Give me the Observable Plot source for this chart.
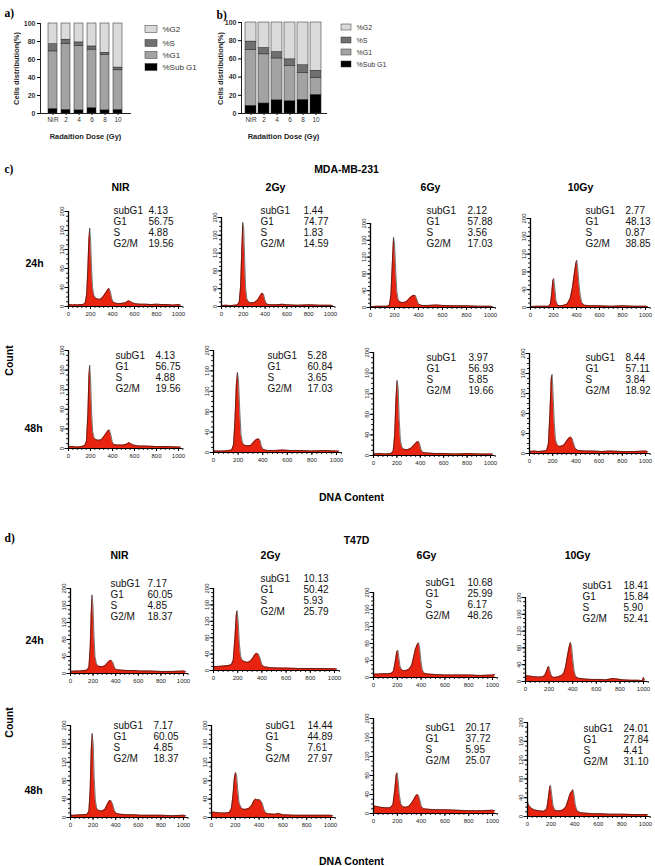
<!DOCTYPE html>
<html><head><meta charset="utf-8">
<script src="https://cdn.jsdelivr.net/npm/d3@7"></script>
<script src="https://cdn.jsdelivr.net/npm/@observablehq/plot@0.6"></script>
<style>
body{margin:0;background:#fff;}
#fig{position:relative;width:655px;height:866px;overflow:hidden;background:#fff;}
#fig svg{position:absolute;left:0;top:0;background:transparent;max-width:none;overflow:visible;}
</style></head><body><div id="fig"></div>
<script>
// ---------- DATA ----------
const doses = ["NIR","2","4","6","8","10"];
const phases = ["%Sub G1","%G1","%S","%G2"];
const phaseColors = ["#000000","#a3a3a3","#707070","#dadada"];
// panel a (MDA-MB-231)
const a_subG1 = [5,4,3.5,6,3.5,4];
const a_G1    = [64,73,71.5,65,61.5,44];
const a_S     = [8,5,4,3.5,2.5,3];
const a_G2    = [23,18,21,25.5,32.5,49];
// panel b (T47D)
const b_subG1 = [8.5,11,14.5,13.5,15,20.5];
const b_G1    = [61.5,54,46,38.5,29.5,18.5];
const b_S     = [9,7,7,7.5,8.5,8];
const b_G2    = [21,28,32.5,40.5,47,53];

const statNames = ["subG1","G1","S","G2/M"];
const colTitles = ["NIR","2Gy","6Gy","10Gy"];
const rowTitles = ["24h","48h"];
const xTickValues = [0,200,400,600,800,1000];
const yTickValues = [0,40,80,120,160,200];
// statistics [subG1, G1, S, G2/M]
const mda24_NIR=[4.13,56.75,4.88,19.56], mda24_2=[1.44,74.77,1.83,14.59], mda24_6=[2.12,57.88,3.56,17.03], mda24_10=[2.77,48.13,0.87,38.85];
const mda48_NIR=[4.13,56.75,4.88,19.56], mda48_2=[5.28,60.84,3.65,17.03], mda48_6=[3.97,56.93,5.85,19.66], mda48_10=[8.44,57.11,3.84,18.92];
const t4724_NIR=[7.17,60.05,4.85,18.37], t4724_2=[10.13,50.42,5.93,25.79], t4724_6=[10.68,25.99,6.17,48.26], t4724_10=[18.41,15.84,5.90,52.41];
const t4748_NIR=[7.17,60.05,4.85,18.37], t4748_2=[14.44,44.89,7.61,27.97], t4748_6=[20.17,37.72,5.95,25.07], t4748_10=[24.01,27.84,4.41,31.10];

// histograms: [DNA channel, count]
const hMDA24_NIR=[[0,3],[20,4],[40,3],[60,4],[80,3],[100,4],[120,4],[140,5],[152,8],[165,25],[176,80],[185,140],[193,165],[201,140],[210,80],[219,40],[230,24],[245,18],[265,16],[285,15],[305,18],[325,24],[342,30],[358,36],[370,38],[382,30],[394,16],[408,9],[430,7],[460,6],[490,7],[520,8],[545,12],[560,11],[580,8],[610,6],[650,5],[700,5],[750,4],[800,5],[850,4],[900,4],[950,3],[1000,4],[1020,3]];
const hMDA24_2=[[0,2],[40,3],[80,2],[120,3],[148,4],[163,10],[175,45],[186,125],[195,189],[204,175],[212,110],[221,45],[232,18],[248,10],[270,8],[300,9],[330,14],[355,24],[370,30],[385,28],[398,15],[412,6],[440,4],[500,4],[560,5],[600,4],[700,3],[800,4],[900,3],[1000,3],[1020,2]];
const hMDA24_6=[[0,2],[50,3],[100,3],[140,3],[158,6],[170,30],[181,100],[192,167],[201,150],[210,90],[219,40],[229,20],[242,14],[260,12],[280,12],[300,14],[320,20],[340,26],[360,29],[375,28],[388,18],[400,8],[430,5],[480,5],[550,6],[600,5],[700,4],[800,4],[900,3],[1000,3],[1020,2]];
const hMDA24_10=[[0,2],[60,3],[120,3],[158,3],[173,8],[184,30],[194,60],[202,65],[211,45],[222,15],[237,5],[260,4],[290,5],[320,8],[345,20],[365,45],[380,75],[395,100],[402,106],[410,90],[421,55],[434,25],[447,10],[470,5],[520,4],[600,4],[700,3],[800,4],[900,3],[1000,3],[1020,2]];
const hMDA48_NIR=[[0,4],[40,4],[80,3],[120,4],[148,6],[163,15],[176,70],[186,150],[193,170],[201,140],[210,75],[220,35],[232,22],[250,18],[275,17],[300,18],[320,24],[340,30],[358,36],[372,38],[385,28],[398,14],[412,8],[450,7],[500,7],[530,9],[550,12],[565,10],[590,7],[640,5],[700,5],[800,4],[900,4],[1000,3],[1020,3]];
const hMDA48_2=[[0,3],[40,3],[80,3],[120,4],[148,5],[163,15],[174,60],[185,130],[195,157],[204,140],[214,80],[224,35],[237,18],[255,14],[280,13],[305,14],[325,20],[345,25],[365,27],[378,24],[390,12],[405,6],[440,4],[500,4],[560,5],[620,4],[700,4],[800,3],[900,4],[1000,3],[1020,3]];
const hMDA48_6=[[0,3],[50,4],[100,3],[150,4],[168,8],[181,40],[192,110],[202,146],[211,130],[220,70],[230,30],[242,16],[260,12],[290,11],[320,14],[345,20],[370,26],[385,27],[395,22],[405,12],[420,6],[460,5],[520,4],[600,4],[700,3],[800,4],[900,3],[1000,3],[1020,3]];
const hMDA48_10=[[0,4],[40,5],[80,4],[120,5],[148,6],[163,20],[176,80],[187,150],[195,158],[203,120],[214,60],[224,28],[237,18],[255,14],[280,15],[300,18],[320,25],[340,31],[355,33],[368,30],[380,20],[395,10],[420,6],[480,5],[550,5],[620,4],[700,5],[800,4],[900,4],[1000,5],[1020,4]];
const hT24_NIR=[[0,5],[40,6],[80,6],[120,7],[148,8],[163,15],[174,60],[183,140],[190,185],[199,160],[208,90],[217,40],[230,22],[250,17],[280,16],[305,18],[325,24],[345,30],[360,31],[375,26],[390,14],[405,9],[440,8],[500,7],[560,7],[620,6],[700,6],[800,5],[900,5],[1000,6],[1020,5]];
const hT24_2=[[0,10],[40,10],[80,11],[120,12],[148,14],[163,25],[177,80],[188,135],[195,146],[204,120],[214,65],[224,35],[237,25],[255,22],[280,20],[300,22],[320,28],[340,38],[355,42],[370,40],[385,30],[400,14],[420,9],[470,7],[540,6],[600,6],[700,5],[800,5],[900,5],[1000,4],[1020,4]];
const hT24_6=[[0,8],[40,8],[80,9],[120,9],[150,10],[168,15],[184,40],[195,60],[205,64],[214,45],[224,25],[237,18],[255,16],[280,17],[300,20],[320,28],[335,45],[350,65],[365,76],[378,82],[388,70],[398,40],[410,18],[425,10],[460,8],[520,7],[600,6],[700,6],[800,6],[900,5],[1000,6],[1020,7]];
const hT24_10=[[0,14],[30,13],[60,12],[100,11],[140,11],[163,14],[179,25],[190,34],[198,36],[208,25],[220,13],[237,10],[260,10],[285,12],[305,14],[325,20],[340,35],[355,60],[368,80],[380,93],[390,85],[400,55],[412,25],[425,12],[450,8],[500,6],[560,5],[620,5],[680,4],[740,7],[780,6],[820,4],[900,3],[960,3],[990,2],[1000,10],[1010,3]];
const hT48_NIR=[[0,5],[40,5],[80,6],[120,6],[148,7],[163,14],[174,60],[184,150],[192,183],[201,160],[210,85],[220,38],[232,20],[250,15],[280,14],[305,18],[325,28],[342,36],[357,37],[372,30],[388,15],[405,9],[440,7],[500,6],[560,6],[620,5],[700,5],[800,5],[900,4],[1000,5],[1020,4]];
const hT48_2=[[0,12],[40,11],[80,10],[120,10],[150,11],[168,20],[181,50],[192,85],[202,98],[211,92],[221,60],[232,32],[247,22],[265,18],[290,18],[315,20],[340,27],[355,36],[370,40],[385,38],[400,39],[415,36],[428,30],[440,18],[455,10],[480,8],[540,7],[560,9],[600,6],[700,5],[800,5],[900,5],[1000,5],[1020,4]];
const hT48_6=[[0,16],[30,15],[60,13],[100,12],[140,12],[163,18],[179,50],[190,80],[198,86],[207,70],[217,40],[230,20],[247,14],[270,13],[295,15],[315,20],[335,28],[350,35],[365,40],[378,38],[390,28],[402,15],[420,10],[460,9],[520,8],[600,8],[700,7],[800,6],[900,6],[1000,7],[1020,6]];
const hT48_10=[[0,32],[10,25],[30,18],[60,14],[100,12],[140,11],[163,16],[177,40],[188,62],[195,66],[204,50],[215,25],[230,14],[250,12],[275,12],[300,14],[325,20],[345,35],[360,48],[372,52],[385,57],[395,45],[405,25],[420,12],[450,8],[500,7],[560,6],[620,6],[700,5],[800,5],[900,4],[1000,4],[1020,4]];

// ---------- LAYOUT (page pixels) ----------
const W = 655, H = 866;
const SANS = "'Liberation Sans', Arial, sans-serif";
const SERIF = "'Liberation Serif', 'Times New Roman', serif";
const RED = "#e8230f";
// [x at channel 0, x at channel 1000, y at count 200, y at count 0]
const histPanels = [
  {d:hMDA24_NIR, f:[68,178,211,306]}, {d:hMDA24_2, f:[221,330,217,306]}, {d:hMDA24_6, f:[370,490,223,307]}, {d:hMDA24_10, f:[530,645,218,307]},
  {d:hMDA48_NIR, f:[68,178,350,448]}, {d:hMDA48_2, f:[213,336,350,452]}, {d:hMDA48_6, f:[373,490,352,455]}, {d:hMDA48_10, f:[529,645,353,453]},
  {d:hT24_NIR, f:[70,183,588,673]}, {d:hT24_2, f:[213,334,588,670]}, {d:hT24_6, f:[373,492,592,677]}, {d:hT24_10, f:[525,643,597,681]},
  {d:hT48_NIR, f:[70,183,725,817]}, {d:hT48_2, f:[211,330,725,817]}, {d:hT48_6, f:[373,492,718,813]}, {d:hT48_10, f:[527,645,722,816]}
];
// stats: [label x, value x, first row y]
const statPanels = [
  {v:mda24_NIR,p:[113,148,210]},{v:mda24_2,p:[260,303,210]},{v:mda24_6,p:[426,467,210]},{v:mda24_10,p:[585,625,210]},
  {v:mda48_NIR,p:[115,155,355]},{v:mda48_2,p:[267,307,355]},{v:mda48_6,p:[426,468,357]},{v:mda48_10,p:[585,625,357]},
  {v:t4724_NIR,p:[110,147,583]},{v:t4724_2,p:[260,303,578]},{v:t4724_6,p:[425,467,582]},{v:t4724_10,p:[582,623,585]},
  {v:t4748_NIR,p:[113,153,725]},{v:t4748_2,p:[265,307,725]},{v:t4748_6,p:[425,465,727]},{v:t4748_10,p:[583,623,728]}
];

const fig = document.getElementById("fig");
function add(svg){ fig.appendChild(svg); }

// ---------- HISTOGRAMS ----------
function hist(panel){
  const [x0, x1000, y200, y0] = panel.f;
  const xEnd = x0 + (x1000 - x0) * 1.04;
  const pts = panel.d.map(([x, y]) => ({x, y}));
  return Plot.plot({
    width: W, height: H,
    marginLeft: x0, marginRight: W - xEnd, marginTop: y200, marginBottom: H - y0,
    style: {fontFamily: SANS, fontSize: "6px", background: "transparent"},
    x: {domain: [0, 1040], label: null},
    y: {domain: [0, 200], label: null},
    marks: [
      Plot.areaY(pts, {x: "x", y: "y", fill: RED}),
      Plot.lineY(pts, {x: "x", y: "y", stroke: "#1a1a1a", strokeWidth: 0.6}),
      Plot.axisX({ticks: d3.range(0, 1041, 40), tickSize: 2, tickFormat: () => "", stroke: "#222"}),
      Plot.axisX({ticks: xTickValues, tickFormat: d => String(d), tickSize: 3, tickPadding: 2, fontSize: 6, fill: "#222"}),
      Plot.axisY({ticks: d3.range(0, 201, 10), tickSize: 2, tickFormat: () => "", stroke: "#222"}),
      Plot.axisY({ticks: yTickValues, tickFormat: d => String(d), tickSize: 3.5, tickPadding: 1, tickRotate: -90, fontSize: 6, fill: "#222"}),
      Plot.ruleX([0], {stroke: "#000", strokeWidth: 1.3}),
      Plot.ruleY([0], {stroke: "#000", strokeWidth: 1})
    ]
  });
}
histPanels.forEach(p => add(hist(p)));

// ---------- STACKED BARS ----------
function bars(sub, g1, s, g2, frame){
  const [left, right, yTop, yBot, pInner, pOuter] = frame;
  const rows = [];
  doses.forEach((d, i) => {
    [sub[i], g1[i], s[i], g2[i]].forEach((v, k) => rows.push({dose: d, phase: phases[k], value: v}));
  });
  return Plot.plot({
    width: W, height: H,
    marginLeft: left, marginRight: W - right, marginTop: yTop, marginBottom: H - yBot,
    style: {fontFamily: SANS, fontSize: "7px", background: "transparent"},
    x: {domain: doses, paddingInner: pInner, paddingOuter: pOuter, label: null},
    y: {domain: [0, 100], label: null},
    color: {domain: phases, range: phaseColors},
    marks: [
      Plot.barY(rows, {x: "dose", y: "value", fill: "phase", stroke: "#222", strokeWidth: 0.5}),
      Plot.axisY({ticks: [0, 20, 40, 60, 80, 100], tickSize: 3, tickPadding: 2, fontSize: 7, fontWeight: "bold", fill: "#333"}),
      Plot.axisX({tickSize: 2, tickPadding: 1.5, fontSize: 6.5, fill: "#333"}),
      Plot.frame({anchor: "left", stroke: "#222"}),
      Plot.frame({anchor: "bottom", stroke: "#222"})
    ]
  });
}
add(bars(a_subG1, a_G1, a_S, a_G2, [40, 130, 23, 113, 0.3, 0.365]));
add(bars(b_subG1, b_G1, b_S, b_G2, [241, 326, 22, 113, 0.15, 0.223]));

// ---------- TEXT / LEGEND OVERLAY ----------
const panelLetters = [{t:"a)",x:4,y:13},{t:"b)",x:216,y:15},{t:"c)",x:4,y:169},{t:"d)",x:4,y:538}];
const headings = [
  {t:"MDA-MB-231",x:346,y:169},{t:"T47D",x:356,y:540},
  {t:colTitles[0],x:120,y:187},{t:colTitles[1],x:275,y:187},{t:colTitles[2],x:430,y:187},{t:colTitles[3],x:580,y:187},
  {t:colTitles[0],x:119,y:555},{t:colTitles[1],x:270,y:555},{t:colTitles[2],x:426,y:555},{t:colTitles[3],x:577,y:555},
  {t:rowTitles[0],x:34,y:263},{t:rowTitles[1],x:33,y:428},{t:rowTitles[0],x:34,y:640},{t:rowTitles[1],x:33,y:790},
  {t:"DNA Content",x:351,y:497},{t:"DNA Content",x:351,y:861}
];
const countLabels = [{t:"Count",x:9,y:360},{t:"Count",x:9,y:722}];
const barTitles = [{t:"Cells distribution(%)",x:16,y:68,r:-90},{t:"Cells distribution(%)",x:220,y:68,r:-90},
  {t:"Radaition Dose (Gy)",x:85,y:136,r:0},{t:"Radaition Dose (Gy)",x:283,y:136,r:0}];
const legendOrder = [3,2,1,0];
const legendA = legendOrder.map((k,i)=>({t:phases[k], c:phaseColors[k], x1:145, x2:157, y:[29,43,55,67][i], lx:162}));
const legendB = legendOrder.map((k,i)=>({t:phases[k], c:phaseColors[k], x1:341, x2:351, y:[27,40,52,64][i], lx:356}));

const statLabelTexts = [], statValueTexts = [];
statPanels.forEach(sp => {
  const [lx, vx, y] = sp.p;
  statNames.forEach((n, i) => {
    statLabelTexts.push({t:n, x:lx, y:y + i*11});
    statValueTexts.push({t:sp.v[i].toFixed(2), x:vx, y:y + i*11});
  });
});

add(Plot.plot({
  width: W, height: H, margin: 0,
  style: {fontFamily: SANS, background: "transparent"},
  x: {type: "identity", axis: null}, y: {type: "identity", axis: null},
  marks: [
    Plot.text(panelLetters, {x:"x", y:"y", text:"t", fontFamily: SERIF, fontWeight:"bold", fontSize: 11.5, textAnchor:"start"}),
    Plot.text(headings, {x:"x", y:"y", text:"t", fontWeight:"bold", fontSize: 10.5, fill:"#000"}),
    Plot.text(countLabels, {x:"x", y:"y", text:"t", fontWeight:"bold", fontSize: 10.5, rotate:-90}),
    Plot.text(barTitles, {x:"x", y:"y", text:"t", rotate:"r", fontWeight:"bold", fontSize: 7.5, fill:"#222"}),
    Plot.text(statLabelTexts, {x:"x", y:"y", text:"t", fontSize: 10, textAnchor:"start", fill:"#111"}),
    Plot.text(statValueTexts, {x:"x", y:"y", text:"t", fontSize: 10, textAnchor:"start", fill:"#111"}),
    Plot.rect(legendA, {x1:"x1", x2:"x2", y1:d=>d.y-3.5, y2:d=>d.y+3.5, fill:"c", stroke:"#333", strokeWidth:0.5}),
    Plot.text(legendA, {x:"lx", y:"y", text:"t", fontSize: 8, textAnchor:"start", fill:"#333"}),
    Plot.rect(legendB, {x1:"x1", x2:"x2", y1:d=>d.y-3, y2:d=>d.y+3, fill:"c", stroke:"#333", strokeWidth:0.5}),
    Plot.text(legendB, {x:"lx", y:"y", text:"t", fontSize: 7, textAnchor:"start", fill:"#333"})
  ]
}));
</script></body></html>
